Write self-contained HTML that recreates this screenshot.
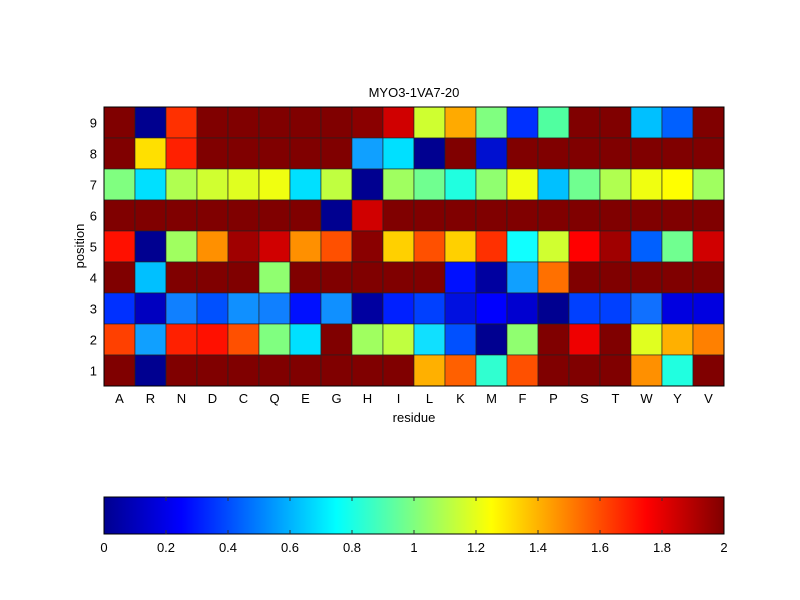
<!DOCTYPE html>
<html><head><meta charset="utf-8"><style>body{margin:0;background:#fff}svg{display:block}text{font-family:"Liberation Sans",sans-serif;font-size:13px;fill:#000}</style></head>
<body>
<svg width="800" height="600" xmlns="http://www.w3.org/2000/svg">
<defs><linearGradient id="jet" x1="0" x2="1" y1="0" y2="0">
<stop offset="0" stop-color="#00008f"/><stop offset="0.125" stop-color="#0000ff"/><stop offset="0.375" stop-color="#00ffff"/><stop offset="0.625" stop-color="#ffff00"/><stop offset="0.875" stop-color="#ff0000"/><stop offset="1" stop-color="#800000"/></linearGradient></defs>
<g id="cells" stroke="#222" stroke-width="0.6"></g>
<rect x="104" y="107" width="620" height="279" fill="none" stroke="#000" stroke-width="1"/>
<g id="lab"></g>
<text x="414" y="97" text-anchor="middle">MYO3-1VA7-20</text>
<text x="414" y="422" text-anchor="middle">residue</text>
<text transform="translate(84,246) rotate(-90)" text-anchor="middle">position</text>
<rect x="104" y="497" width="620" height="37" fill="url(#jet)" stroke="#000" stroke-width="1"/>
<g id="cb"></g>
</svg>
<script>
var DR="#800000";
var rows=[
[DR,"#00008f","#ff3000",DR,DR,DR,DR,DR,"#8a0000","#d00000","#cfff30","#ffaa00","#80ff80","#0030ff","#50ffa0",DR,DR,"#00c0ff","#0060ff",DR],
[DR,"#ffe000","#ff2000",DR,DR,DR,DR,DR,"#10a0ff","#00e0ff","#000090",DR,"#0010d0",DR,DR,DR,DR,DR,DR,DR],
["#80ff80","#00e0ff","#b0ff50","#d0ff30","#e0ff20","#f0ff10","#00e0ff","#c0ff40","#000090","#a0ff60","#70ff90","#20ffe0","#90ff70","#f0ff10","#00c0ff","#70ff90","#b0ff50","#f0ff10","#ffff00","#a0ff60"],
[DR,DR,DR,DR,DR,DR,DR,"#000090","#d00000",DR,DR,DR,DR,DR,DR,DR,DR,DR,DR,DR],
["#ff1000","#000090","#a0ff60","#ff9000","#a00000","#d00000","#ff9000","#ff5000","#8a0000","#ffd000","#ff5000","#ffd000","#ff3000","#10ffff","#d0ff30","#ff0000","#a00000","#0060ff","#70ff90","#d00000"],
[DR,"#00c0ff",DR,DR,DR,"#90ff70",DR,DR,DR,DR,DR,"#0010ff","#0000a0","#10a0ff","#ff7000",DR,DR,DR,DR,DR],
["#0030ff","#0000c0","#1080ff","#0050ff","#1090ff","#1080ff","#0010ff","#1090ff","#0000a0","#0020ff","#0040ff","#0010e0","#0000ff","#0000d0","#000090","#0040ff","#0040ff","#1070ff","#0000e0","#0000e0"],
["#ff4000","#10a0ff","#ff2000","#ff1000","#ff5000","#80ff80","#00e0ff",DR,"#a0ff60","#c0ff40","#10e0ff","#0050ff","#000090","#90ff70",DR,"#ef0000",DR,"#e0ff20","#ffb000","#ff8000"],
[DR,"#000090",DR,DR,DR,DR,DR,DR,DR,DR,"#ffb000","#ff6000","#30ffd0","#ff5000",DR,DR,DR,"#ff9000","#20ffe0",DR]];
var ns="http://www.w3.org/2000/svg",g=document.getElementById("cells"),l=document.getElementById("lab"),cb=document.getElementById("cb");
function el(p,t,a,tx){var e=document.createElementNS(ns,t);for(var k in a)e.setAttribute(k,a[k]);if(tx)e.textContent=tx;p.appendChild(e);return e;}
var W=31,H=31;
rows.forEach(function(r,i){r.forEach(function(c,j){el(g,"rect",{x:104+j*W,y:107+i*H,width:W,height:H,fill:c});});
el(l,"text",{x:97,y:107+i*H+H/2+5,"text-anchor":"end"},String(9-i));});
"ARNDCQEGHILKMFPSTWYV".split("").forEach(function(c,j){el(l,"text",{x:104+j*W+W/2,y:403,"text-anchor":"middle"},c);});
for(var k=0;k<=10;k++){var x=104+k*62;var t=(k/5).toString();el(cb,"text",{x:x,y:552,"text-anchor":"middle"},t);
if(k>0&&k<10){el(cb,"line",{x1:x,x2:x,y1:497,y2:501,stroke:"#333"});el(cb,"line",{x1:x,x2:x,y1:530,y2:534,stroke:"#333"});}}
</script>
</body></html>
